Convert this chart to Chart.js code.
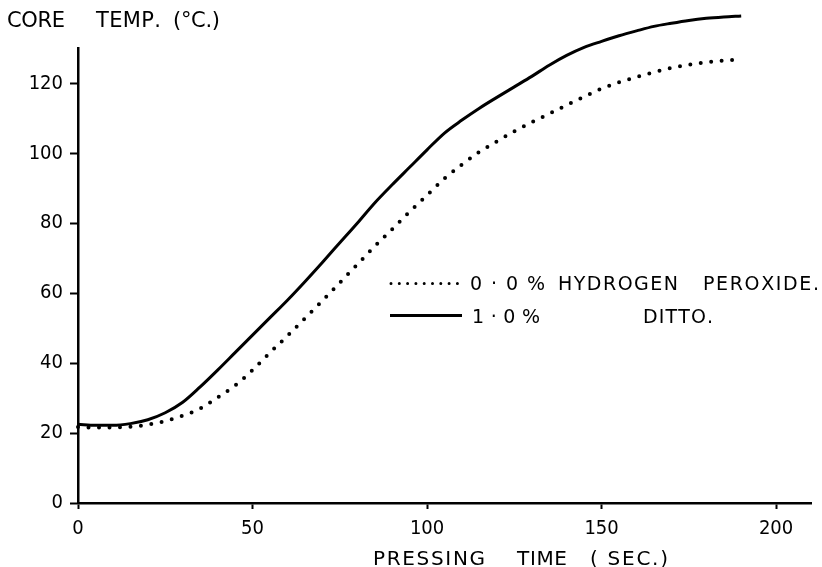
<!DOCTYPE html>
<html>
<head>
<meta charset="utf-8">
<script src="https://cdn.jsdelivr.net/npm/chart.js@4.4.1/dist/chart.umd.min.js"></script>
<style>
  html, body { margin: 0; padding: 0; background: #fff; }
  #wrap { width: 822px; height: 567px; position: relative; }
</style>
</head>
<body>
<div id="wrap"><canvas id="chart"></canvas></div>
<script>
// pressing time (sec.)
const pressTime = [0, 5, 10, 15, 20, 25, 30, 35, 40, 45, 50, 55, 60, 65, 70, 75, 80, 85, 90, 95,
    100, 105, 110, 115, 120, 125, 130, 135, 140, 145, 150, 155, 160, 165, 170, 175, 180, 185, 190];

// core temp (deg C), 0.0% hydrogen peroxide (dotted)
const tempPlain = [21.7, 21.6, 21.6, 21.8, 22.4, 23.4, 25.0, 27.0, 30.2, 33.6, 38.0, 43.0, 47.8, 52.8,
    57.8, 63.0, 68.2, 73.4, 78.3, 83.3, 88.0, 92.8, 96.8, 100.4, 103.4, 106.3, 108.9, 111.3, 113.8,
    116.2, 118.5, 120.3, 121.8, 123.2, 124.4, 125.3, 126.0, 126.5, 126.9];

// core temp (deg C), 1.0% hydrogen peroxide (solid)
const tempPeroxide = [22.5, 22.2, 22.2, 22.7, 23.8, 25.8, 28.8, 33.2, 38.0, 43.0, 48.0, 53.0, 58.0, 63.3,
    68.8, 74.4, 80.0, 85.8, 91.0, 96.0, 101.0, 105.8, 109.5, 112.9, 116.0, 119.0, 122.0, 125.2, 128.0,
    130.3, 132.0, 133.6, 135.0, 136.3, 137.2, 138.0, 138.6, 139.0, 139.3];

const xTicks = [0, 50, 100, 150, 200];
const yTicks = [0, 20, 40, 60, 80, 100, 120];

const TICK_FONT = "'DejaVu Sans Condensed', 'DejaVu Sans', sans-serif";
const TEXT_FONT = "'DejaVu Sans', sans-serif";

Chart.defaults.font.family = TICK_FONT;
Chart.defaults.color = '#000';

const dottedStyle = {
    borderColor: '#000',
    borderWidth: 4,
    borderDash: [0, 10.5],
    borderCapStyle: 'round'
};
const solidStyle = {
    borderColor: '#000',
    borderWidth: 3,
    borderDash: [],
    borderCapStyle: 'butt'
};

// stencil-like lettering: letters spread evenly from x1 to x2, on baseline y
function stencilText(ctx, text, x1, x2, y, size) {
    ctx.save();
    ctx.font = size + 'px ' + TEXT_FONT;
    ctx.textAlign = 'left';
    ctx.textBaseline = 'alphabetic';
    const chars = Array.from(text);
    const widths = chars.map(c => ctx.measureText(c).width);
    const total = widths.reduce((a, b) => a + b, 0);
    const gap = chars.length > 1 ? (x2 - x1 - total) / (chars.length - 1) : 0;
    let x = x1;
    chars.forEach((c, i) => {
        ctx.fillText(c, x, y);
        x += widths[i] + gap;
    });
    ctx.restore();
}

// axis titles and in-plot key
const textPlugin = {
    id: 'paperText',
    afterDraw(chart) {
        const ctx = chart.ctx;
        ctx.save();
        ctx.fillStyle = '#000';

        // y title
        stencilText(ctx, 'CORE', 7, 65, 27, 21);
        stencilText(ctx, 'TEMP.', 96, 161, 27, 21);
        stencilText(ctx, '(°C.)', 173, 220, 27, 21);

        // x title
        stencilText(ctx, 'PRESSING', 373, 485, 565, 20);
        stencilText(ctx, 'TIME', 517, 567, 565, 20);
        stencilText(ctx, '( SEC.)', 590, 668, 565, 20);

        // key
        ctx.beginPath();
        ctx.strokeStyle = dottedStyle.borderColor;
        ctx.lineWidth = 3;
        ctx.lineCap = 'round';
        ctx.setLineDash([0, 8.3]);
        ctx.moveTo(391, 283.5);
        ctx.lineTo(465, 283.5);
        ctx.stroke();

        ctx.beginPath();
        ctx.setLineDash([]);
        ctx.lineCap = 'butt';
        ctx.lineWidth = solidStyle.borderWidth;
        ctx.moveTo(390, 315.5);
        ctx.lineTo(462, 315.5);
        ctx.stroke();

        stencilText(ctx, '0·0%', 470, 545, 290, 19);
        stencilText(ctx, 'HYDROGEN', 558, 678, 290, 19);
        stencilText(ctx, 'PEROXIDE.', 703, 819, 290, 19);
        stencilText(ctx, '1·0%', 472, 540, 322.5, 19);
        stencilText(ctx, 'DITTO.', 643, 713, 322.5, 19);
        ctx.restore();
    }
};

new Chart(document.getElementById('chart'), {
    type: 'line',
    data: {
        labels: pressTime,
        datasets: [
            Object.assign({
                label: '0·0% HYDROGEN PEROXIDE.',
                data: pressTime.map((t, i) => ({ x: t, y: tempPlain[i] })),
                pointRadius: 0,
                cubicInterpolationMode: 'monotone',
                fill: false,
                clip: false
            }, dottedStyle),
            Object.assign({
                label: '1·0% DITTO.',
                data: pressTime.map((t, i) => ({ x: t, y: tempPeroxide[i] })),
                pointRadius: 0,
                cubicInterpolationMode: 'monotone',
                fill: false,
                clip: false
            }, solidStyle)
        ]
    },
    options: {
        responsive: true,
        maintainAspectRatio: false,
        animation: false,
        layout: { padding: { left: 6, right: 11, top: 48.4, bottom: 0 } },
        plugins: {
            legend: { display: false },
            tooltip: { enabled: false },
            title: { display: false }
        },
        scales: {
            x: {
                type: 'linear',
                min: 0,
                max: 210,
                afterBuildTicks: s => { s.ticks = xTicks.map(v => ({ value: v })); },
                afterFit: s => { s.height = 64; },
                ticks: { font: { size: 20 }, padding: 8, maxRotation: 0 },
                grid: { drawOnChartArea: false, color: '#000', tickLength: 6, tickWidth: 2 },
                border: { display: true, color: '#000', width: 2.5 }
            },
            y: {
                type: 'linear',
                min: 0,
                max: 130,
                afterBuildTicks: s => { s.ticks = yTicks.map(v => ({ value: v })); },
                afterFit: s => { s.width = 72; },
                ticks: { font: { size: 20 }, padding: 7 },
                grid: { drawOnChartArea: false, color: '#000', tickLength: 8, tickWidth: 2 },
                border: { display: true, color: '#000', width: 2.5 }
            }
        }
    },
    plugins: [textPlugin]
});
</script>
</body>
</html>
